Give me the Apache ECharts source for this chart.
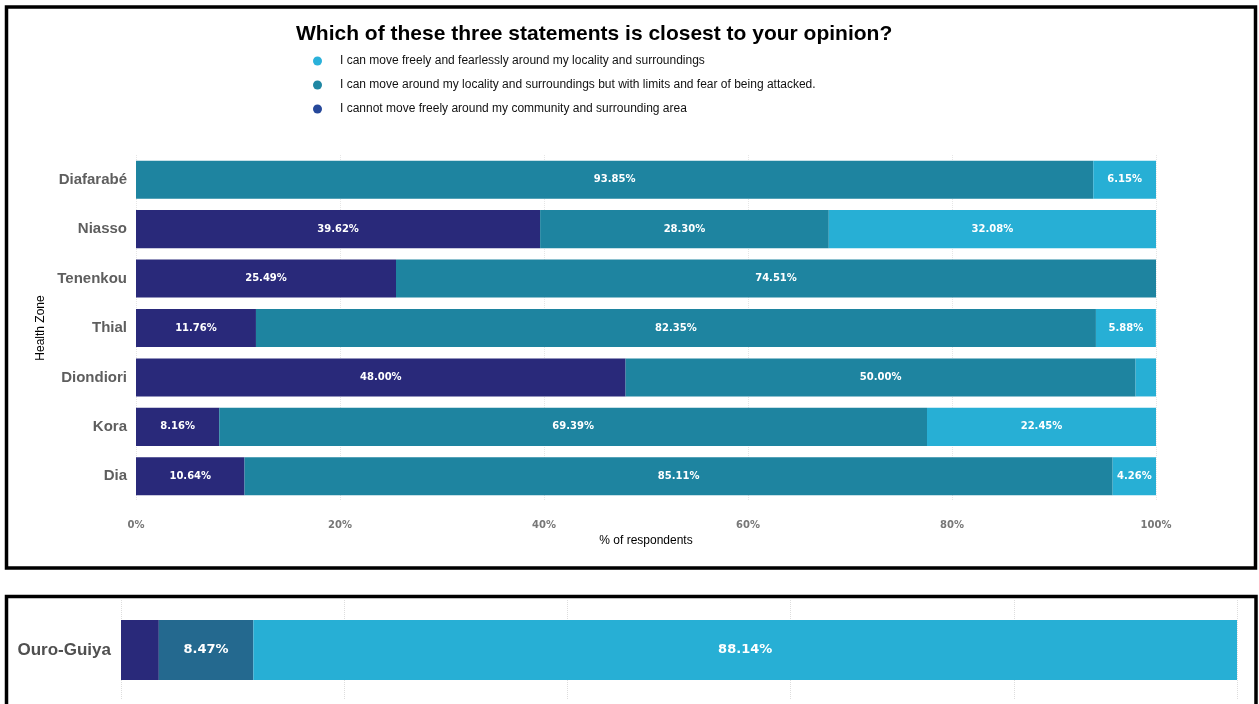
<!DOCTYPE html>
<html>
<head>
<meta charset="utf-8">
<style>
  html, body { margin: 0; padding: 0; background: #ffffff; }
  #chart { width: 1259px; height: 704px; }
</style>
<script src="https://cdn.jsdelivr.net/npm/echarts@6/dist/echarts.min.js"></script>
</head>
<body>
<div id="chart"></div>
<script>
// Health zones, top panel (listed top to bottom)
const zones = ['Diafarabé', 'Niasso', 'Tenenkou', 'Thial', 'Diondiori', 'Kora', 'Dia'];
// Share of respondents (%) per answer
const cannotMove = [0, 39.62, 25.49, 11.76, 48.00, 8.16, 10.64];
const limitedMove = [93.85, 28.30, 74.51, 82.35, 50.00, 69.39, 85.11];
const freeMove = [6.15, 32.08, 0, 5.88, 2.00, 22.45, 4.26];

// Bottom panel
const zones2 = ['Ouro-Guiya'];
const cannotMove2 = [3.39];
const limitedMove2 = [8.47];
const freeMove2 = [88.14];

const answers = [
  'I can move freely and fearlessly around my locality and surroundings',
  'I can move around my locality and surroundings but with limits and fear of being attacked.',
  'I cannot move freely around my community and surrounding area'
];

const NAVY = '#29297a';
const TEAL = '#1e84a0';
const LIGHT = '#27afd5';
const TEAL2 = '#24698f';

function segLabel(minShow, size) {
  return {
    show: true,
    position: 'inside',
    color: '#ffffff',
    fontFamily: 'DejaVu Sans',
    fontWeight: 'bold',
    fontSize: size,
    formatter: p => (p.value >= minShow ? p.value.toFixed(2) + '%' : '')
  };
}

const chart = echarts.init(document.getElementById('chart'), null, { renderer: 'canvas' });

chart.setOption({
  animation: false,
  backgroundColor: '#ffffff',
  title: {
    text: 'Which of these three statements is closest to your opinion?',
    left: 291,
    top: 19,
    textStyle: { fontFamily: 'Liberation Sans', fontWeight: 'bold', fontSize: 21, color: '#000' }
  },
  legend: {
    orient: 'vertical',
    left: 308,
    top: 50,
    icon: 'circle',
    itemWidth: 9,
    itemHeight: 9,
    itemGap: 12,
    selectedMode: false,
    textStyle: { fontFamily: 'Liberation Sans', fontSize: 12, color: '#111', padding: [11, 0, 0, 13] },
    data: [
      { name: answers[0], itemStyle: { color: '#2ab1da' } },
      { name: answers[1], itemStyle: { color: '#1f87a3' } },
      { name: answers[2], itemStyle: { color: '#26489a' } }
    ]
  },
  graphic: [
    { type: 'rect', shape: { x: 6.5, y: 7, width: 1249, height: 561 }, style: { fill: 'none', stroke: '#000', lineWidth: 3.5 }, z: 100 },
    { type: 'rect', shape: { x: 6.5, y: 596.5, width: 1249.5, height: 200 }, style: { fill: 'none', stroke: '#000', lineWidth: 3.5 }, z: 100 }
  ],
  grid: [
    { left: 136, right: 103, top: 155, height: 346 },
    { left: 121, right: 22, top: 600, height: 100 }
  ],
  xAxis: [
    {
      gridIndex: 0, type: 'value', min: 0, max: 100, interval: 20,
      name: '% of respondents', nameLocation: 'middle', nameGap: 34,
      nameTextStyle: { fontFamily: 'Liberation Sans', fontSize: 12, color: '#000' },
      axisLine: { show: false }, axisTick: { show: false },
      axisLabel: { margin: 19, formatter: v => v + '%', fontFamily: 'DejaVu Sans', fontWeight: 'bold', fontSize: 10, color: '#777' },
      splitLine: { show: true, lineStyle: { color: '#e6e6e6', type: 'dotted', width: 1 } }
    },
    {
      gridIndex: 1, type: 'value', min: 0, max: 100, interval: 20,
      axisLine: { show: false }, axisTick: { show: false }, axisLabel: { show: false },
      splitLine: { show: true, lineStyle: { color: '#dddddd', type: 'dotted', width: 1 } }
    }
  ],
  yAxis: [
    {
      gridIndex: 0, type: 'category', data: zones, inverse: true,
      name: 'Health Zone', nameLocation: 'middle', nameGap: 86, nameRotate: 90,
      nameTextStyle: { fontFamily: 'Liberation Sans', fontSize: 12, color: '#000' },
      axisLine: { show: false }, axisTick: { show: false },
      axisLabel: { margin: 9, fontFamily: 'Liberation Sans', fontWeight: 'bold', fontSize: 15, color: '#5e5e5e' }
    },
    {
      gridIndex: 1, type: 'category', data: zones2,
      axisLine: { show: false }, axisTick: { show: false },
      axisLabel: { margin: 10, fontFamily: 'Liberation Sans', fontWeight: 'bold', fontSize: 17, color: '#4f4f4f' }
    }
  ],
  series: [
    { name: answers[2], type: 'bar', stack: 'a', xAxisIndex: 0, yAxisIndex: 0, data: cannotMove, barCategoryGap: '23%', itemStyle: { color: NAVY }, label: segLabel(3, 10) },
    { name: answers[1], type: 'bar', stack: 'a', xAxisIndex: 0, yAxisIndex: 0, data: limitedMove, barCategoryGap: '23%', itemStyle: { color: TEAL }, label: segLabel(3, 10) },
    { name: answers[0], type: 'bar', stack: 'a', xAxisIndex: 0, yAxisIndex: 0, data: freeMove, barCategoryGap: '23%', itemStyle: { color: LIGHT }, label: segLabel(3, 10) },
    { name: answers[2], type: 'bar', stack: 'b', xAxisIndex: 1, yAxisIndex: 1, data: cannotMove2, barWidth: 60, itemStyle: { color: NAVY }, label: segLabel(5, 13) },
    { name: answers[1], type: 'bar', stack: 'b', xAxisIndex: 1, yAxisIndex: 1, data: limitedMove2, barWidth: 60, itemStyle: { color: TEAL2 }, label: segLabel(5, 13) },
    { name: answers[0], type: 'bar', stack: 'b', xAxisIndex: 1, yAxisIndex: 1, data: freeMove2, barWidth: 60, itemStyle: { color: LIGHT }, label: segLabel(5, 13) }
  ]
});
</script>
</body>
</html>
